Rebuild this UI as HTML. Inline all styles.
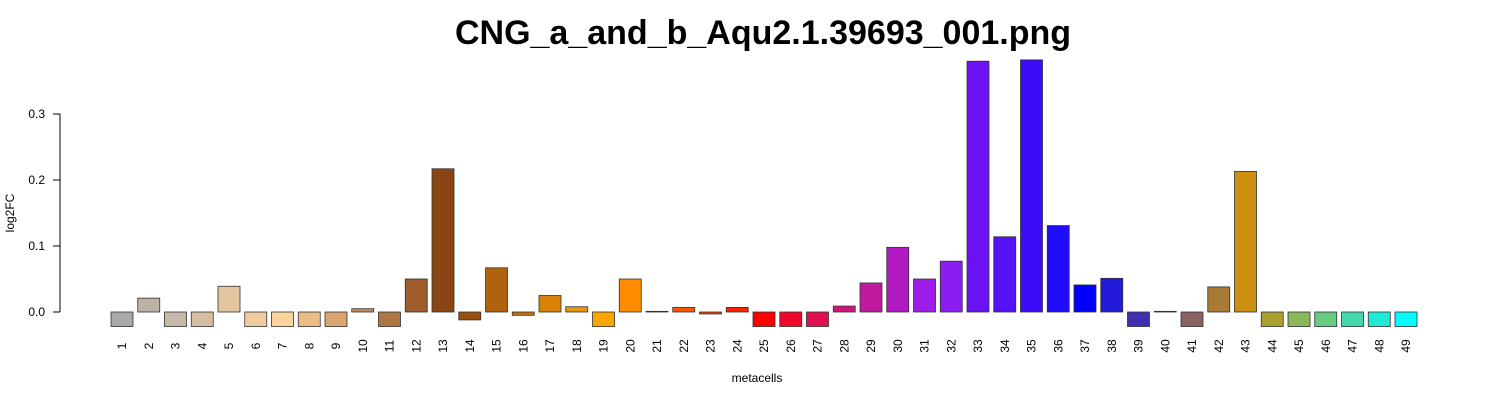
<!DOCTYPE html>
<html><head><meta charset="utf-8"><style>
body{margin:0;background:#fff}
svg{display:block;font-family:"Liberation Sans",sans-serif}
</style></head><body>
<svg id="c" width="1500" height="400">
<text x="763" y="44" text-anchor="middle" font-size="34" font-weight="bold">CNG_a_and_b_Aqu2.1.39693_001.png</text>
<text x="757" y="382" text-anchor="middle" font-size="12">metacells</text>
<text transform="translate(14,213) rotate(-90)" text-anchor="middle" font-size="12">log2FC</text>
<g id="yaxis"></g>
<g id="bars"></g>
<g id="xlabels"></g>
</svg>
<script>
const categories=[1,2,3,4,5,6,7,8,9,10,11,12,13,14,15,16,17,18,19,20,21,22,23,24,25,26,27,28,29,30,31,32,33,34,35,36,37,38,39,40,41,42,43,44,45,46,47,48,49];
const values=[-0.022,0.021,-0.022,-0.022,0.039,-0.022,-0.022,-0.022,-0.022,0.005,-0.022,0.05,0.217,-0.012,0.067,-0.005,0.025,0.008,-0.022,0.05,0.001,0.007,-0.003,0.007,-0.022,-0.022,-0.022,0.009,0.044,0.098,0.05,0.077,0.38,0.114,0.382,0.131,0.041,0.051,-0.022,0.001,-0.022,0.038,0.213,-0.022,-0.022,-0.022,-0.022,-0.022,-0.022];
const colors=["#a9a9a9","#bcb3a8","#c6b9a5","#d4bfa2","#e2c59e","#f0cda0","#fdd49e","#ebbd86","#d9a46e","#c68c56","#ae7444","#9e5b2c","#8b4513","#9a4f0e","#b0620c","#c4720a","#d88408","#e8960a","#fba500","#fe8b00","#fe7000","#fe5600","#fe3c00","#fe2300","#fe0000","#f0082c","#e01050","#d0157a","#c21a9e","#b01ac0","#9c1ee8","#8a1ef0","#6a12f2","#5512f4","#3a0cf8","#1e0cfa","#0000fe","#221ad8","#4030b0","#555555","#8a6060","#a87a36","#cc9010","#aaa030","#8ab85a","#66cc80","#44d8aa","#22e8d8","#00fefe"];
const yTicks=[0,0.1,0.2,0.3];
const yTickLabels=["0.0","0.1","0.2","0.3"];
const NS="http://www.w3.org/2000/svg";
function y(v){return 312-v*660;}
function xc(i){return 122+i*26.75;}
function mk(t,a,p){const e=document.createElementNS(NS,t);for(const k in a)e.setAttribute(k,a[k]);p.appendChild(e);return e;}
const ya=document.getElementById('yaxis');
const al=mk('line',{x1:60,x2:60,y1:y(0),y2:y(0.3),stroke:'#000'},ya);


yTicks.forEach((t,i)=>{
 const tk=mk('line',{x1:53,x2:60,y1:y(t),y2:y(t),stroke:'#000'},ya);
 
 
 const tx=mk('text',{x:45,y:y(t)+4,'text-anchor':'end','font-size':12},ya);
 tx.textContent=yTickLabels[i];
 
 
});
const bg=document.getElementById('bars'),xl=document.getElementById('xlabels');
values.forEach((v,i)=>{
 const top=Math.min(y(v),y(0)),h=Math.max(Math.abs(y(v)-y(0)),0.5);
 const r=mk('rect',{x:xc(i)-11,y:top,width:22,height:h,fill:colors[i],stroke:'#333','stroke-width':0.8},bg);
 
 
 const t=mk('text',{transform:`translate(${xc(i)+4},${346}) rotate(-90)`,'text-anchor':'middle','font-size':12},xl);
 t.textContent=categories[i];
 
 
});
</script>
</body></html>
